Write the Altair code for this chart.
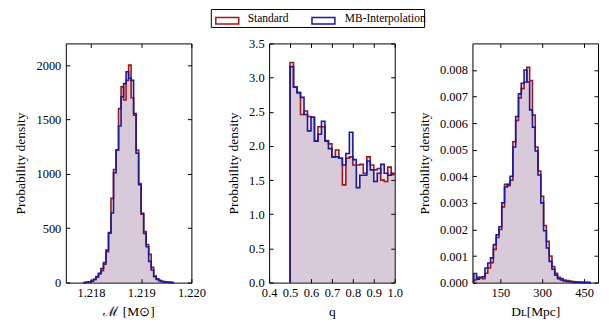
import altair as alt
import pandas as pd

RED = "#a31616"
BLUE = "#1a1a9c"
SERIES = ["Standard", "MB-Interpolation"]
FONT = "Liberation Serif"

# Panel 1: chirp mass histogram (bin start, width, densities)
MC_START = 1.21785
MC_WIDTH = 0.00005
MC_STD = [0, 2, 6, 12, 28, 50, 80, 110, 170, 285, 455, 775, 1040, 1220, 1600, 1800, 1680, 1860,
          2000, 1700, 1540, 1220, 910, 630, 470, 350, 260, 140, 60, 35, 20, 12, 8, 4, 2, 0]
MC_MBI = [0, 3, 8, 15, 30, 55, 85, 130, 185, 300, 460, 640, 1010, 1220, 1440, 1710, 1830, 1940,
          1880, 1860, 1556, 1190, 900, 637, 453, 330, 195, 116, 55, 30, 18, 9, 5, 3, 2, 0]

# Panel 2: mass ratio q
Q_START = 0.5
Q_WIDTH = 1 / 60
Q_STD = [3.22, 2.86, 2.78, 2.46, 2.51, 2.43, 2.42, 2.07, 2.28, 2.28, 2.08, 2.03, 1.84, 1.94, 1.82,
         1.43, 1.82, 1.84, 1.72, 1.72, 1.73, 1.60, 1.84, 1.72, 1.65, 1.67, 1.50, 1.48, 1.69, 1.58]
Q_MBI = [3.16, 2.86, 2.78, 2.71, 2.46, 2.22, 2.42, 2.07, 2.17, 2.36, 2.07, 1.96, 1.84, 1.84, 1.82,
         1.72, 1.89, 2.20, 1.80, 1.39, 1.57, 1.57, 1.78, 1.65, 1.48, 1.60, 1.73, 1.60, 1.57, 1.60]

# Panel 3: luminosity distance (density in units of 1e-3 per Mpc)
DL_START = 55
DL_WIDTH = 10
DL_STD = [0.10, 0.20, 0.18, 0.15, 0.35, 0.55, 0.75, 1.25, 1.70, 2.00,
          2.85, 3.70, 3.65, 3.85, 5.30, 6.10, 6.95, 7.30, 7.55, 8.10,
          7.60, 6.30, 5.10, 4.20, 3.25, 2.15, 1.55, 1.00, 0.60, 0.35,
          0.20, 0.15, 0.10, 0.08, 0.06, 0.04, 0.03, 0.02, 0.02, 0.01, 0.01, 0.0]
DL_MBI = [0.34, 0.13, 0.20, 0.22, 0.55, 0.74, 0.93, 1.43, 1.80, 2.10,
          3.00, 3.60, 3.70, 4.00, 5.10, 6.25, 7.10, 7.50, 8.00, 7.55,
          6.50, 5.85, 4.95, 4.05, 3.00, 1.95, 1.30, 0.80, 0.50, 0.28,
          0.15, 0.10, 0.06, 0.04, 0.03, 0.02, 0.01, 0.01, 0.0, 0.0, 0.0, 0.0]


def step_frames(start, width, series_values, scale=1.0):
    area_rows, line_rows = [], []
    for name, vals in series_values:
        n = len(vals)
        edges = [start + width * i for i in range(n + 1)]
        for i in range(n):
            area_rows.append({"x": edges[i], "y": vals[i] * scale, "grp": name})
        area_rows.append({"x": edges[n], "y": vals[-1] * scale, "grp": name})
        k = 0
        line_rows.append({"x": edges[0], "y": 0.0, "series": name, "k": k}); k += 1
        for i in range(n):
            line_rows.append({"x": edges[i], "y": vals[i] * scale, "series": name, "k": k}); k += 1
        line_rows.append({"x": edges[n], "y": vals[-1] * scale, "series": name, "k": k})
    return pd.DataFrame(area_rows), pd.DataFrame(line_rows)


def legend_layers():
    """Framed legend drawn above the middle panel (offsets relative to its plot area)."""
    one = pd.DataFrame({"series": [SERIES[0]]})
    two = pd.DataFrame({"series": [SERIES[1]]})
    box = alt.Chart(one).mark_rect(fill="white", stroke="black", strokeWidth=1).encode(
        x=alt.value(-58), x2=alt.value(156), y=alt.value(-34), y2=alt.value(-16))
    sym1 = alt.Chart(one).mark_rect(fill="white", stroke=RED, strokeWidth=1.5).encode(
        x=alt.value(-53.5), x2=alt.value(-30.5), y=alt.value(-26), y2=alt.value(-19.5))
    sym2 = alt.Chart(two).mark_rect(fill="white", stroke=BLUE, strokeWidth=1.5).encode(
        x=alt.value(43), x2=alt.value(66), y=alt.value(-26), y2=alt.value(-19.5))
    txt1 = alt.Chart(one).mark_text(align="left", baseline="middle", font=FONT, fontSize=11.5,
                                    color="black").encode(
        text="series:N", x=alt.value(-21.5), y=alt.value(-24))
    txt2 = alt.Chart(two).mark_text(align="left", baseline="middle", font=FONT, fontSize=11.5,
                                    color="black").encode(
        text="series:N", x=alt.value(76), y=alt.value(-24))
    return [box, sym1, sym2, txt1, txt2]


def panel(start, width, std, mbi, scale, xdom, ydom, xticks, yticks, xfmt, yfmt, xtitle,
          with_legend=False):
    area_df, line_df = step_frames(start, width, [("Standard", std), ("MB-Interpolation", mbi)], scale)
    xs = alt.Scale(domain=xdom, nice=False, zero=False)
    ys = alt.Scale(domain=ydom, nice=False)

    main_x = alt.Axis(values=xticks, format=xfmt, title=xtitle, tickSize=0, domain=False,
                      labelFlush=False, labelOverlap=False, labelPadding=4, titlePadding=6, grid=False)
    main_y = alt.Axis(values=yticks, format=yfmt, title="Probability density", tickSize=0,
                      domain=False, labelFlush=False, labelOverlap=False, labelPadding=5,
                      titlePadding=8, grid=False)
    tick_x = alt.Axis(values=xticks, labels=False, tickSize=4, offset=-4, domain=False,
                      title=None, grid=False, orient="bottom")
    tick_y = alt.Axis(values=yticks, labels=False, tickSize=4, offset=-4, domain=False,
                      title=None, grid=False, orient="left")
    top_x = alt.Axis(values=xticks, labels=False, tickSize=4, offset=-4, domain=False,
                     title=None, grid=False, orient="top")
    right_y = alt.Axis(values=yticks, labels=False, tickSize=4, offset=-4, domain=False,
                       title=None, grid=False, orient="right")

    area = alt.Chart(area_df).mark_area(interpolate="step-after", fillOpacity=0.12).encode(
        x=alt.X("x:Q", scale=xs, axis=main_x),
        y=alt.Y("y:Q", scale=ys, axis=main_y, stack=None),
        fill=alt.Fill("grp:N", scale=alt.Scale(domain=SERIES, range=[RED, BLUE]), legend=None),
    )
    line = alt.Chart(line_df).mark_line(interpolate="step-after", strokeWidth=1.6).encode(
        x=alt.X("x:Q", scale=xs, axis=tick_x),
        y=alt.Y("y:Q", scale=ys, axis=tick_y),
        color=alt.Color("series:N", scale=alt.Scale(domain=SERIES, range=[RED, BLUE]),
                        legend=None),
        order="k:Q",
    )
    frame = alt.Chart(line_df).mark_line(opacity=0).encode(
        x=alt.X("x:Q", scale=xs, axis=top_x),
        y=alt.Y("y:Q", scale=ys, axis=right_y),
    )
    layers = [area, line, frame]
    if with_legend:
        layers += legend_layers()
    return alt.layer(*layers).resolve_axis(x="independent", y="independent").properties(
        width=126, height=240)


p1 = panel(MC_START, MC_WIDTH, MC_STD, MC_MBI, 1.0, [1.2175, 1.2200], [0, 2200],
           [1.218, 1.219, 1.220], [0, 500, 1000, 1500, 2000], ".3f", "d", "\u2133 [M\u2299]")
p2 = panel(Q_START, Q_WIDTH, Q_STD, Q_MBI, 1.0, [0.4, 1.0], [0, 3.5],
           [0.4, 0.5, 0.6, 0.7, 0.8, 0.9, 1.0], [0, 0.5, 1.0, 1.5, 2.0, 2.5, 3.0, 3.5],
           ".1f", ".1f", "q", with_legend=True)
p3 = panel(DL_START, DL_WIDTH, DL_STD, DL_MBI, 1e-3, [50, 500], [0, 0.009],
           [150, 300, 450], [0.001 * i for i in range(10)], "d", ".3f", "D\u029f[Mpc]")

chart = alt.hconcat(p1, p2, p3, spacing=78, bounds="flush").properties(
    padding={"left": 5, "top": 0, "right": 2, "bottom": 2}
).configure_view(stroke="black", strokeWidth=1).configure_axis(
    labelFont=FONT, labelFontSize=12.5, labelColor="black",
    titleFont=FONT, titleFontSize=13.5, titleFontWeight="normal", titleColor="black",
    tickColor="black", tickWidth=1
)

chart.save("out.html", embed_options={"renderer": "svg", "actions": False})
